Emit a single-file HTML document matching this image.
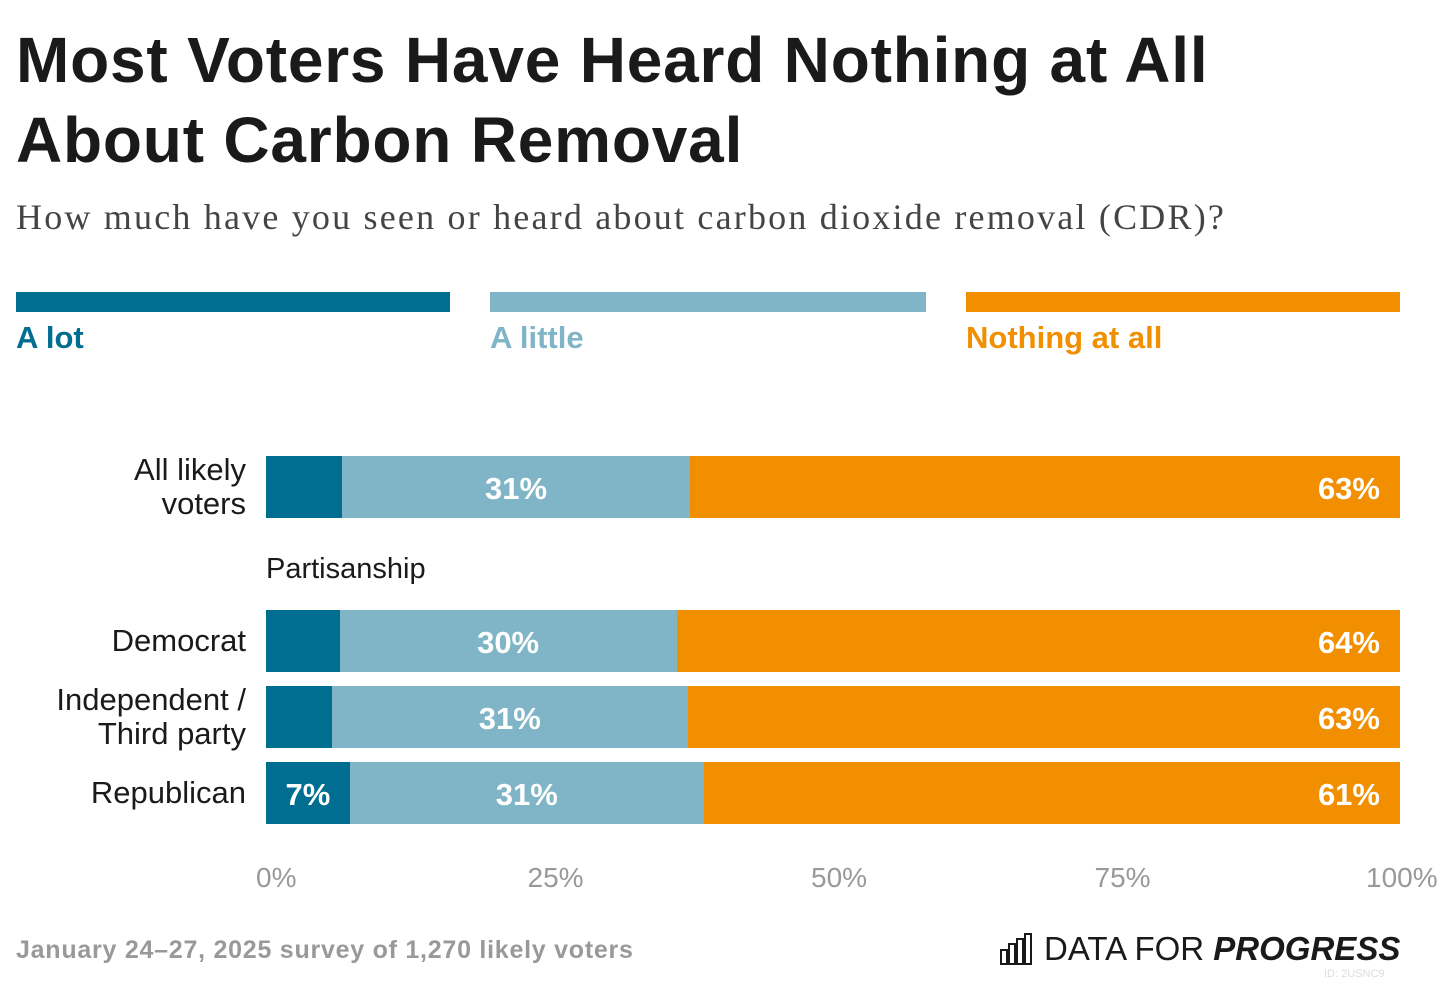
<!DOCTYPE html>
<html><head><meta charset="utf-8"><style>
body{margin:0;width:1440px;height:984px;background:#fff;font-family:"Liberation Sans",sans-serif;position:relative;overflow:hidden}
.abs{position:absolute}
h1{position:absolute;left:16px;top:20px;margin:0;font-size:64px;line-height:80px;font-weight:bold;color:#1a1a1a;letter-spacing:0.8px;white-space:nowrap}
.sub{left:16px;top:196px;font-family:"Liberation Serif",serif;font-size:36px;color:#444;letter-spacing:2.2px;white-space:nowrap}
.leg{height:20px;top:292px}
.legt{top:320px;font-size:31px;font-weight:bold}
.cat{right:1194px;text-align:right;font-size:31px;color:#1a1a1a;line-height:34px;white-space:nowrap}
.tick{top:862px;font-size:28px;color:#999}
</style></head><body>
<h1>Most Voters Have Heard Nothing at All<br>About Carbon Removal</h1>
<div class="abs sub">How much have you seen or heard about carbon dioxide removal (CDR)?</div>
<div class="abs leg" style="left:16px;width:434px;background:#006e90"></div>
<div class="abs leg" style="left:490px;width:436px;background:#7fb5c7"></div>
<div class="abs leg" style="left:966px;width:434px;background:#f18f01"></div>
<div class="abs legt" style="left:16px;color:#006e90">A lot</div>
<div class="abs legt" style="left:490px;color:#7fb5c7">A little</div>
<div class="abs legt" style="left:966px;color:#f18f01">Nothing at all</div>
<div class="abs" style="left:266px;top:553px;font-size:29px;color:#1a1a1a">Partisanship</div>
<div id="chart"></div>
<div class="abs" style="left:16px;top:936px;font-size:25px;font-weight:bold;color:#999;letter-spacing:0.75px;white-space:nowrap">January 24–27, 2025 survey of 1,270 likely voters</div>
<div class="abs" style="left:1000px;top:930px;display:flex;align-items:center;white-space:nowrap">
<svg width="32" height="32" viewBox="0 0 32 32"><g fill="none" stroke="#1a1a1a" stroke-width="2"><rect x="1" y="17" width="6" height="14"/><rect x="9" y="11" width="6" height="20"/><rect x="17" y="6" width="6" height="25"/><rect x="25" y="1" width="6" height="30"/></g></svg>
<span style="font-size:33px;margin-left:12px;color:#1a1a1a">DATA FOR <b><i>PROGRESS</i></b></span></div>
<div class="abs" style="left:1324px;top:968px;font-size:11px;color:#ddd">ID: 2USNC9</div>
<script>
const categories=["All likely voters","Democrat","Independent / Third party","Republican"];
const catLines=[["All likely","voters"],["Democrat"],["Independent /","Third party"],["Republican"]];
const aLot=[6.7,6.5,5.8,7.4];
const aLittle=[30.7,29.7,31.4,31.2];
const nothing=[62.6,63.8,62.8,61.4];
const aLotLabels=["","","","7%"];
const aLittleLabels=["31%","30%","31%","31%"];
const nothingLabels=["63%","64%","63%","61%"];
const ticks=[0,25,50,75,100];
const rowTops=[456,610,686,762];
const x0=266,x1=1400,bh=62;
const xs=v=>x0+(x1-x0)*v/100;
const c=document.getElementById('chart');
function mk(style,txt){const d=document.createElement('div');d.className='abs';d.style.cssText=style;if(txt)d.textContent=txt;c.appendChild(d);return d;}
const series=[[aLot,aLotLabels,'#006e90','a-lot'],[aLittle,aLittleLabels,'#7fb5c7','a-little'],[nothing,nothingLabels,'#f18f01','nothing']];
categories.forEach((cat,i)=>{
  let cum=0;const y=rowTops[i];
  series.forEach(([vals,labs,col,key],si)=>{
    const a=xs(cum),b=xs(cum+vals[i]);cum+=vals[i];
    const r=mk(`left:${a}px;top:${y}px;width:${b-a}px;height:${bh}px;background:${col};`);
    
    
    if(labs[i]){
      const s=si===2?`left:${a}px;width:${b-a-20}px;text-align:right;`:`left:${a}px;width:${b-a}px;text-align:center;`;
      const t=mk(s+`top:${y+2}px;line-height:${bh}px;color:#fff;font-weight:bold;font-size:31px;`,labs[i]);
      
      
    }
  });
  const lines=catLines[i];
  const l=mk(`top:${y+bh/2-lines.length*17}px;`);
  l.className='abs cat';
  l.innerHTML=lines.join('<br>');
  
  
});
ticks.forEach((t,i)=>{
  const x=xs(t);
  const tl=mk(`left:${i===0?x-10:(i===ticks.length-1?x-34:x-22)}px;`,t+'%');
  tl.className='abs tick';
  
  
});
</script>
</body></html>
